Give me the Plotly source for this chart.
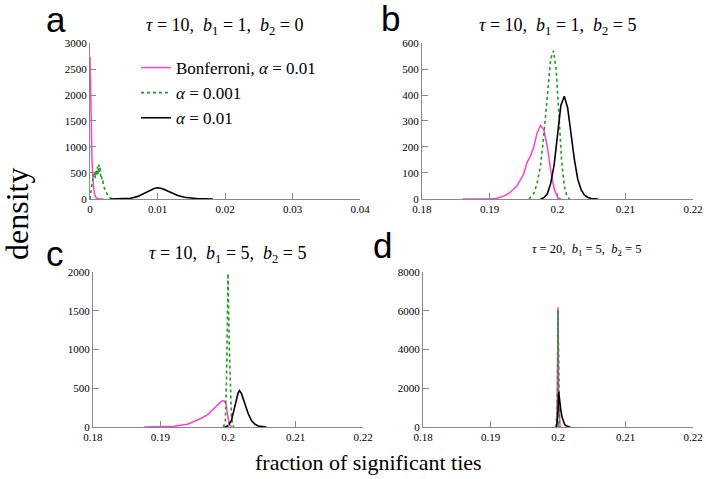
import plotly.graph_objects as go
from plotly.subplots import make_subplots

# panel a: tau = 10, b1 = 1, b2 = 0
a_bonf_x = [0, 0.0001, 0.0002, 0.0003, 0.0005, 0.0007, 0.0009, 0.0012, 0.0016, 0.002]
a_bonf_y = [2730, 2200, 1400, 700, 250, 80, 25, 5, 1, 0]
a_001_x = [0, 0.0001, 0.0002, 0.0003, 0.0004, 0.0005, 0.0006, 0.0007, 0.0008, 0.0009, 0.001,
           0.0011, 0.0012, 0.0013, 0.0014, 0.0015, 0.0016, 0.0017, 0.0018, 0.0019, 0.002,
           0.0022, 0.0024, 0.0026, 0.0028, 0.003, 0.0033, 0.0036]
a_001_y = [0, 80, 180, 300, 380, 470, 420, 520, 400, 560, 450, 620, 480, 660, 520, 600, 420,
           450, 330, 340, 250, 180, 120, 70, 40, 18, 5, 0]
a_01_x = [0.003, 0.004, 0.005, 0.006, 0.007, 0.008, 0.009, 0.0095, 0.01, 0.0105, 0.011, 0.012,
          0.013, 0.014, 0.015, 0.016, 0.017, 0.0182]
a_01_y = [0, 1, 4, 14, 45, 105, 172, 200, 215, 205, 180, 122, 68, 32, 13, 5, 2, 0]

# panel b: tau = 10, b1 = 1, b2 = 5
b_bonf_x = [0.186, 0.19, 0.191, 0.192, 0.193, 0.194, 0.195, 0.1955, 0.196, 0.1965, 0.197, 0.1975,
            0.198, 0.1985, 0.199, 0.1995, 0.2, 0.2005]
b_bonf_y = [0, 0, 3, 10, 25, 50, 95, 140, 165, 200, 255, 283, 265, 200, 110, 40, 6, 0]
b_001_x = [0.1958, 0.1965, 0.197, 0.1975, 0.198, 0.1985, 0.199, 0.1994, 0.1998, 0.2002, 0.2006,
           0.201, 0.2014, 0.2018]
b_001_y = [0, 20, 60, 130, 250, 400, 540, 570, 500, 330, 150, 50, 10, 0]
b_01_x = [0.1975, 0.198, 0.1985, 0.199, 0.1995, 0.2, 0.2005, 0.201, 0.2015, 0.202, 0.2025, 0.203,
          0.2035, 0.204, 0.2045, 0.205, 0.206]
b_01_y = [0, 5, 20, 60, 130, 250, 360, 395, 350, 250, 150, 75, 35, 15, 6, 2, 0]

# panel c: tau = 10, b1 = 5, b2 = 5
c_bonf_x = [0.1876, 0.19, 0.192, 0.194, 0.195, 0.196, 0.197, 0.198, 0.1985, 0.199, 0.1994, 0.1997,
            0.2, 0.2003, 0.2006]
c_bonf_y = [0, 2, 10, 35, 70, 110, 160, 240, 290, 330, 340, 300, 120, 20, 0]
c_001_x = [0.1993, 0.1996, 0.1998, 0.2, 0.2002, 0.2003, 0.2005, 0.2007, 0.2009]
c_001_y = [0, 60, 700, 1980, 1000, 700, 150, 20, 0]
c_01_x = [0.1995, 0.2, 0.2005, 0.201, 0.2015, 0.2017, 0.202, 0.2025, 0.203, 0.2035, 0.204,
          0.2045, 0.205, 0.2057]
c_01_y = [0, 15, 80, 250, 440, 468, 430, 300, 170, 80, 35, 12, 4, 0]

# panel d: tau = 20, b1 = 5, b2 = 5
d_bonf_x = [0.1995, 0.1998, 0.1999, 0.2, 0.2001, 0.2002, 0.2003]
d_bonf_y = [0, 50, 2000, 6180, 1500, 50, 0]
d_001_x = [0.1997, 0.1999, 0.2, 0.2001, 0.2002, 0.2003]
d_001_y = [0, 1000, 6050, 2000, 200, 0]
d_01_x = [0.1998, 0.2, 0.2001, 0.2002, 0.2004, 0.2006, 0.2008, 0.201, 0.2012, 0.2015, 0.2018]
d_01_y = [0, 800, 1820, 1400, 900, 500, 250, 120, 60, 20, 0]

titles = ["<i>τ</i> = 10,&nbsp; <i>b</i><sub>1</sub> = 1,&nbsp; <i>b</i><sub>2</sub> = 0",
          "<i>τ</i> = 10,&nbsp; <i>b</i><sub>1</sub> = 1,&nbsp; <i>b</i><sub>2</sub> = 5",
          "<i>τ</i> = 10,&nbsp; <i>b</i><sub>1</sub> = 5,&nbsp; <i>b</i><sub>2</sub> = 5",
          "<i>τ</i> = 20,&nbsp; <i>b</i><sub>1</sub> = 5,&nbsp; <i>b</i><sub>2</sub> = 5"]
letters = ["a", "b", "c", "d"]
names = ["Bonferroni, <i>α</i> = 0.01", "<i>α</i> = 0.001", "<i>α</i> = 0.01"]

PINK = "#ff3fd0"
GREEN = "#1f9a1f"
SERIF = "Liberation Serif, Times New Roman, serif"

panels = [
    [(a_bonf_x, a_bonf_y), (a_001_x, a_001_y), (a_01_x, a_01_y)],
    [(b_bonf_x, b_bonf_y), (b_001_x, b_001_y), (b_01_x, b_01_y)],
    [(c_bonf_x, c_bonf_y), (c_001_x, c_001_y), (c_01_x, c_01_y)],
    [(d_bonf_x, d_bonf_y), (d_001_x, d_001_y), (d_01_x, d_01_y)],
]
styles = [dict(color=PINK, width=1.5), dict(color=GREEN, width=1.6, dash="dot"),
          dict(color="black", width=1.6)]

fig = make_subplots(rows=2, cols=2)
for i, series in enumerate(panels):
    r, c = i // 2 + 1, i % 2 + 1
    for j, (xs, ys) in enumerate(series):
        fig.add_trace(go.Scatter(x=xs, y=ys, mode="lines", line=styles[j], name=names[j],
                                 showlegend=(i == 0)), row=r, col=c)

xdom = [(0.1275, 0.510), (0.5977, 0.9816), (0.1317, 0.5142), (0.5992, 0.9816)]
ydom = [(0.5846, 0.9102), (0.5846, 0.9102), (0.1086, 0.4322), (0.1086, 0.4322)]
xr = [[0, 0.04], [0.18, 0.22], [0.18, 0.22], [0.18, 0.22]]
yr = [[0, 3000], [0, 600], [0, 2000], [0, 8000]]
ytick = [500, 100, 500, 2000]

axstyle = dict(showgrid=False, zeroline=False, showline=True, linecolor="#888888", linewidth=1,
               ticks="inside", ticklen=6, tickcolor="#888888", automargin=False,
               tickfont=dict(family=SERIF, size=11, color="black"))
for i in range(4):
    n = "" if i == 0 else str(i + 1)
    fig.layout["xaxis" + n].update(domain=xdom[i], range=xr[i], **axstyle)
    fig.layout["yaxis" + n].update(domain=ydom[i], range=yr[i], dtick=ytick[i], **axstyle)
fig.layout.xaxis.tickvals = [0, 0.01, 0.02, 0.03, 0.04]
fig.layout.xaxis.ticktext = ["0", "0.01", "0.02", "0.03", "0.04"]
for n in ["2", "3", "4"]:
    fig.layout["xaxis" + n].tickvals = [0.18, 0.19, 0.2, 0.21, 0.22]
    fig.layout["xaxis" + n].ticktext = ["0.18", "0.19", "0.2", "0.21", "0.22"]


def note(text, px, py, size, family=SERIF, angle=0):
    fig.add_annotation(text=text, x=px / 706, y=1 - py / 479, xref="paper", yref="paper",
                       xanchor="center", yanchor="middle", showarrow=False, textangle=angle,
                       font=dict(family=family, size=size, color="black"))


title_pos = [(225, 26, 18), (558, 26, 18), (228, 254, 18), (586, 250, 12.5)]
for (px, py, fs), t in zip(title_pos, titles):
    note(t, px, py, fs)

letter_pos = [(56, 19), (391, 18), (55, 253), (382, 245)]
for (px, py), t in zip(letter_pos, letters):
    note(t, px, py, 35, family="Liberation Sans, Arial, sans-serif")

note("density", 17, 214, 32, angle=-90)
note("fraction of significant ties", 369, 462, 22)

fig.update_layout(
    width=706, height=479,
    margin=dict(l=0, r=0, t=0, b=0, autoexpand=False),
    paper_bgcolor="white", plot_bgcolor="white",
    legend=dict(x=136 / 706, y=1 - 50 / 479, xanchor="left", yanchor="top",
                bgcolor="rgba(0,0,0,0)", itemwidth=30, tracegroupgap=0,
                font=dict(family=SERIF, size=17, color="black")),
)

fig.write_html("out.html", config={"displayModeBar": False},
               post_script="document.body.style.margin='0px';")
